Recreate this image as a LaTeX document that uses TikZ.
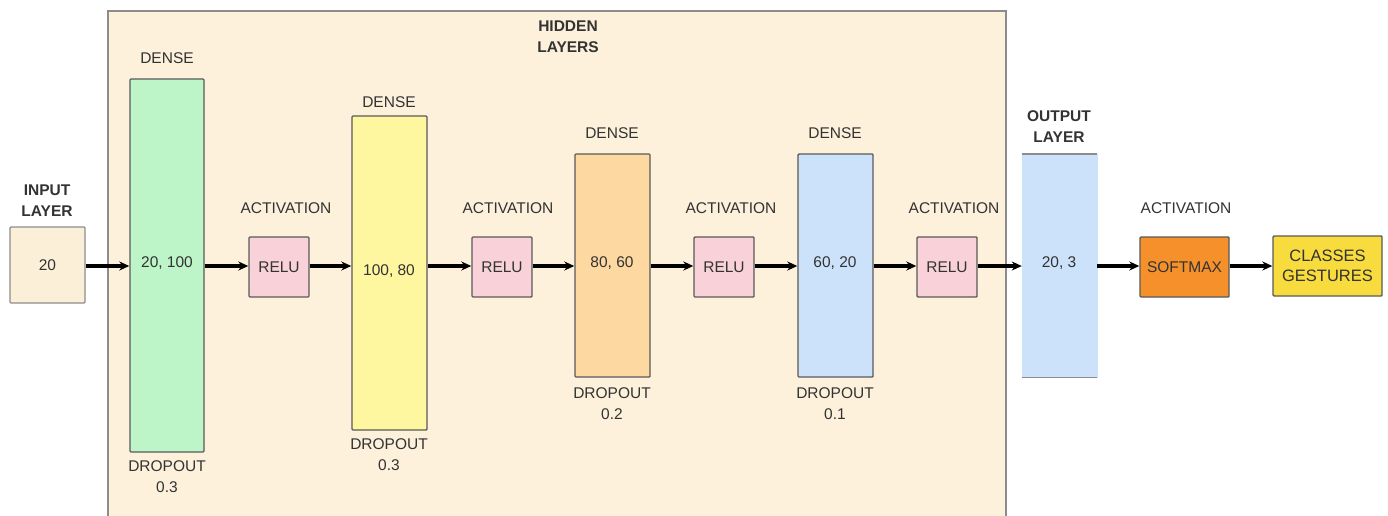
\documentclass[tikz,border=0pt]{standalone}
\usepackage{fontspec}
\setmainfont{Liberation Sans}
\usetikzlibrary{arrows.meta}
\definecolor{panel}{HTML}{FDF1DC}
\definecolor{inbox}{HTML}{FCEFD8}
\definecolor{greenL}{HTML}{BDF4C8}
\definecolor{yellowL}{HTML}{FFF6A0}
\definecolor{orangeL}{HTML}{FDD8A0}
\definecolor{blueL}{HTML}{CCE2FA}
\definecolor{pinkL}{HTML}{F8D2D8}
\definecolor{softmaxC}{HTML}{F6902A}
\definecolor{classC}{HTML}{F8DB3C}
\definecolor{edge}{HTML}{5A5A5A}
\definecolor{paneledge}{HTML}{8C8C8C}
\definecolor{txt}{HTML}{333333}
\tikzset{
  x=1pt, y=-1pt,
  every node/.style={font=\fontsize{15.5}{18}\selectfont, text=txt},
  box/.style={draw=edge, line width=1.4pt, rounded corners=1pt, inner sep=0pt},
  lbl/.style={align=center, font=\fontsize{15.5}{21}\selectfont},
  blbl/.style={align=center, font=\bfseries\fontsize{15.5}{21}\selectfont},
  link/.style={line width=3.4pt, -{Stealth[length=10pt,width=9pt]}, black}
}
\newcommand{\boxat}[6]{% name, x1, y1, x2, y2, style
  \node[#6, minimum width={(#4-#2)*1pt}, minimum height={(#5-#3)*1pt}] (#1) at ({(#2+#4)/2},{(#3+#5)/2}) {};}
\begin{document}
\begin{tikzpicture}
\useasboundingbox (0,0) rectangle (1388,516);
\fill[white] (0,0) rectangle (1388,516);

% hidden layers panel
\draw[draw=paneledge, line width=1.3pt, fill=panel] (108,530) -- (108,11) -- (1006,11) -- (1006,530);
\node[blbl] (hid) at (568,37) {HIDDEN\\LAYERS};

% input layer
\boxat{in}{10}{227}{85}{303}{box, draw=paneledge, fill=inbox}
\node at (in) {20};
\node[blbl] (inl) at (47,201) {INPUT\\LAYER};

% dense 1
\boxat{d1}{130}{79}{204}{452}{box, fill=greenL}
\node at (167,263) {20, 100};
\node[lbl] at (167,58) {DENSE};
\node[lbl] at (167,477) {DROPOUT\\0.3};

% relu 1
\boxat{r1}{249}{237}{309}{297}{box, fill=pinkL}
\node at (r1) {RELU};
\node[lbl] at (286,208) {ACTIVATION};

% dense 2
\boxat{d2}{352}{116}{427}{430}{box, fill=yellowL}
\node at (389,271) {100, 80};
\node[lbl] at (389,102) {DENSE};
\node[lbl] at (389,455) {DROPOUT\\0.3};

% relu 2
\boxat{r2}{472}{237}{532}{297}{box, fill=pinkL}
\node at (r2) {RELU};
\node[lbl] at (508,208) {ACTIVATION};

% dense 3
\boxat{d3}{575}{154}{650}{377}{box, fill=orangeL}
\node at (612,263) {80, 60};
\node[lbl] at (612,133) {DENSE};
\node[lbl] at (612,404) {DROPOUT\\0.2};

% relu 3
\boxat{r3}{694}{237}{754}{297}{box, fill=pinkL}
\node at (r3) {RELU};
\node[lbl] at (731,208) {ACTIVATION};

% dense 4
\boxat{d4}{798}{154}{873}{377}{box, fill=blueL}
\node at (835,263) {60, 20};
\node[lbl] at (835,133) {DENSE};
\node[lbl] at (835,404) {DROPOUT\\0.1};

% relu 4
\boxat{r4}{917}{237}{977}{297}{box, fill=pinkL}
\node at (r4) {RELU};
\node[lbl] at (954,208) {ACTIVATION};

% output layer (only top and bottom edges drawn)
\boxat{out}{1022}{154}{1097}{377}{draw=blueL, fill=blueL, inner sep=0pt}
\draw[paneledge, line width=1.4pt] (out.north west) -- (out.north east);
\draw[paneledge, line width=1.4pt] (out.south west) -- (out.south east);
\node at (1059,263) {20, 3};
\node[blbl] (outl) at (1059,127) {OUTPUT\\LAYER};

% softmax
\boxat{sm}{1140}{237}{1229}{297}{box, fill=softmaxC}
\node at (sm) {SOFTMAX};
\node[lbl] at (1186,208) {ACTIVATION};

% classes
\boxat{cl}{1273}{236}{1382}{296}{box, fill=classC}
\node[lbl, font=\fontsize{16.5}{20}\selectfont] at (cl) {CLASSES\\GESTURES};

% connectors
\draw[link] (in.east |- 0,266) -- (d1.west |- 0,266);
\draw[link] (d1.east |- 0,266) -- (r1.west |- 0,266);
\draw[link] (r1.east |- 0,266) -- (d2.west |- 0,266);
\draw[link] (d2.east |- 0,266) -- (r2.west |- 0,266);
\draw[link] (r2.east |- 0,266) -- (d3.west |- 0,266);
\draw[link] (d3.east |- 0,266) -- (r3.west |- 0,266);
\draw[link] (r3.east |- 0,266) -- (d4.west |- 0,266);
\draw[link] (d4.east |- 0,266) -- (r4.west |- 0,266);
\draw[link] (r4.east |- 0,266) -- (out.west |- 0,266);
\draw[link] (out.east |- 0,266) -- (sm.west |- 0,266);
\draw[link] (sm.east |- 0,266) -- (cl.west |- 0,266);
\end{tikzpicture}
\end{document}
